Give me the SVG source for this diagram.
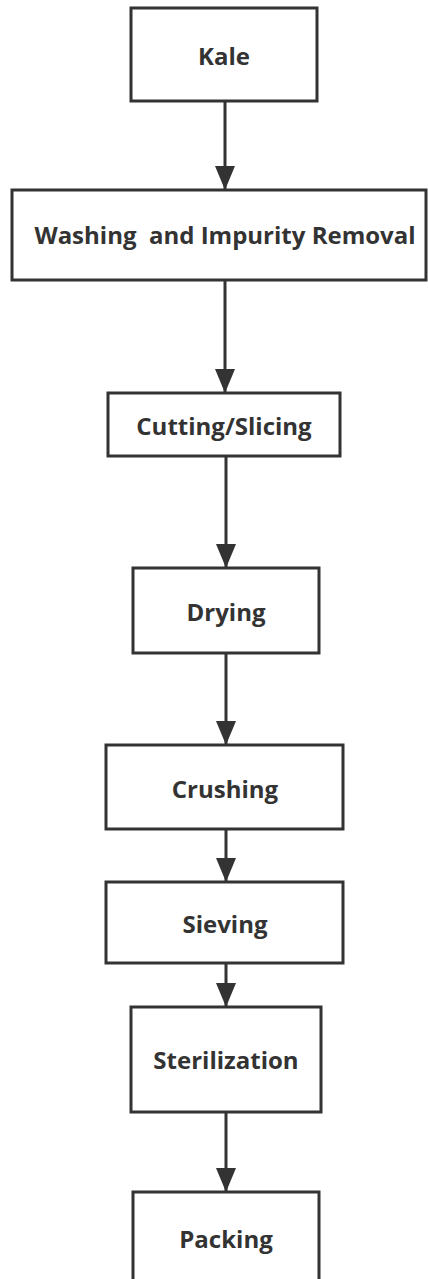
<svg xmlns="http://www.w3.org/2000/svg" width="428" height="1279" viewBox="0 0 428 1279">
  <style>
    .box { fill: #ffffff; stroke: #333333; stroke-width: 3; }
    .lbl { font-family: "Open Sans", "Noto Sans", "Liberation Sans", sans-serif; font-weight: bold; font-size: 24px; fill: #333333; text-anchor: middle; }
    .edge { stroke: #333333; stroke-width: 3; fill: none; marker-end: url(#arrow); }
  </style>
  <defs>
    <marker id="arrow" markerUnits="userSpaceOnUse" markerWidth="24" markerHeight="20" refX="24" refY="10" orient="auto" viewBox="0 0 24 20">
      <path d="M0,0 L24,10 L0,20 Z" fill="#333333"/>
    </marker>
  </defs>
  <rect width="428" height="1279" fill="#ffffff"/>
  <g id="connectors">
    <path class="edge" d="M225,101 L225,190"/>
    <path class="edge" d="M225,280 L225,393"/>
    <path class="edge" d="M226,456 L226,568"/>
    <path class="edge" d="M226,653 L226,745"/>
    <path class="edge" d="M226,829 L226,882"/>
    <path class="edge" d="M226,963 L226,1007"/>
    <path class="edge" d="M226,1112 L226,1192"/>
  </g>
  <g id="kale">
    <rect class="box" x="131" y="8" width="186" height="93"/>
    <text class="lbl" x="224" y="65">Kale</text>
  </g>
  <g id="washing">
    <rect class="box" x="12" y="190" width="414" height="90"/>
    <text class="lbl" x="225" y="244" xml:space="preserve">Washing  and Impurity Removal</text>
  </g>
  <g id="cutting">
    <rect class="box" x="108" y="393" width="232" height="63"/>
    <text class="lbl" x="224" y="435">Cutting/Slicing</text>
  </g>
  <g id="drying">
    <rect class="box" x="133" y="568" width="186" height="85"/>
    <text class="lbl" x="226" y="621">Drying</text>
  </g>
  <g id="crushing">
    <rect class="box" x="106" y="745" width="237" height="84"/>
    <text class="lbl" x="225" y="798">Crushing</text>
  </g>
  <g id="sieving">
    <rect class="box" x="106" y="882" width="237" height="81"/>
    <text class="lbl" x="225" y="933">Sieving</text>
  </g>
  <g id="sterilization">
    <rect class="box" x="131" y="1007" width="190" height="105"/>
    <text class="lbl" x="226" y="1069">Sterilization</text>
  </g>
  <g id="packing">
    <rect class="box" x="133" y="1192" width="186" height="100"/>
    <text class="lbl" x="226" y="1248">Packing</text>
  </g>
</svg>
